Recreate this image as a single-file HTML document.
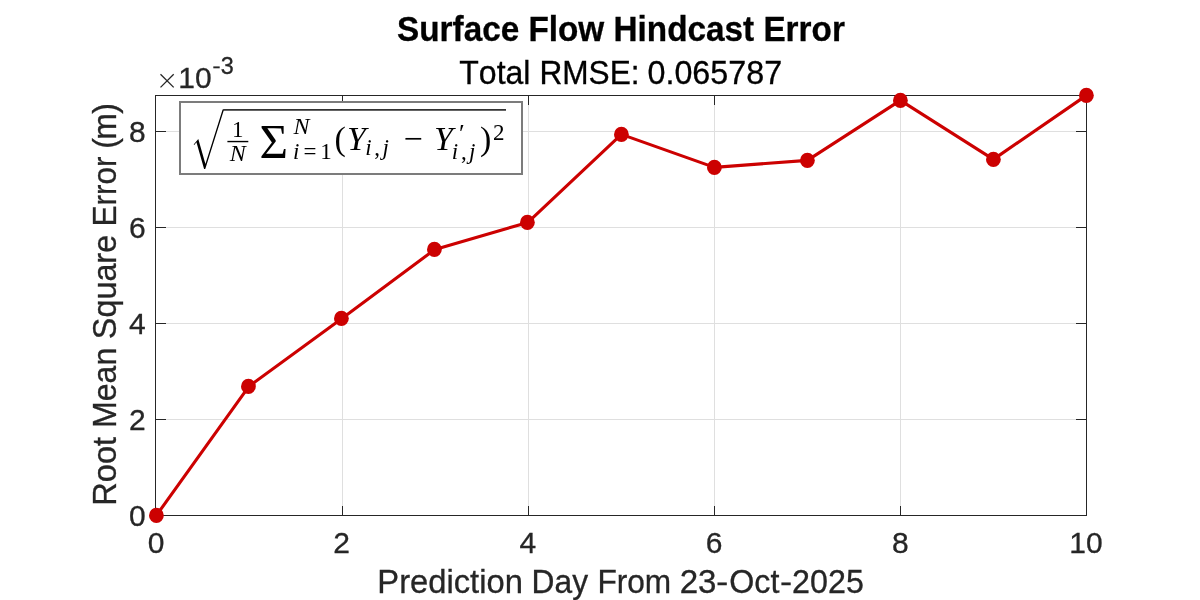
<!DOCTYPE html>
<html>
<head>
<meta charset="utf-8">
<title>Surface Flow Hindcast Error</title>
<style>
html,body{margin:0;padding:0;background:#fff;}
body{width:1200px;height:600px;overflow:hidden;position:relative;font-family:"Liberation Sans",sans-serif;}
svg{position:absolute;left:0;top:0;display:block;will-change:transform;opacity:0.9999;}
text{font-family:"Liberation Sans",sans-serif;fill:#262626;stroke:#262626;stroke-width:0.3px;font-kerning:none;white-space:pre;}
</style>
</head>
<body>
<svg width="1200" height="600" viewBox="0 0 1200 600">
<rect x="0" y="0" width="1200" height="600" fill="#ffffff"/>
<g shape-rendering="crispEdges" fill="#dfdfdf">
<rect x="342" y="96" width="1" height="419"/>
<rect x="528" y="96" width="1" height="419"/>
<rect x="714" y="96" width="1" height="419"/>
<rect x="900" y="96" width="1" height="419"/>
<rect x="156" y="131" width="930" height="1"/>
<rect x="156" y="227" width="930" height="1"/>
<rect x="156" y="323" width="930" height="1"/>
<rect x="156" y="419" width="930" height="1"/>
</g>
<g shape-rendering="crispEdges" fill="#262626">
<rect x="155" y="95" width="932" height="1"/><rect x="155" y="515" width="932" height="1"/><rect x="155" y="95" width="1" height="421"/><rect x="1086" y="95" width="1" height="421"/>
<rect x="342" y="506" width="1" height="9"/><rect x="342" y="96" width="1" height="9"/>
<rect x="528" y="506" width="1" height="9"/><rect x="528" y="96" width="1" height="9"/>
<rect x="714" y="506" width="1" height="9"/><rect x="714" y="96" width="1" height="9"/>
<rect x="900" y="506" width="1" height="9"/><rect x="900" y="96" width="1" height="9"/>
<rect x="156" y="131" width="10" height="1"/><rect x="1076" y="131" width="10" height="1"/>
<rect x="156" y="227" width="10" height="1"/><rect x="1076" y="227" width="10" height="1"/>
<rect x="156" y="323" width="10" height="1"/><rect x="1076" y="323" width="10" height="1"/>
<rect x="156" y="419" width="10" height="1"/><rect x="1076" y="419" width="10" height="1"/>
</g>
<polyline fill="none" stroke="#cc0000" stroke-width="3.1" stroke-linejoin="round" stroke-linecap="round" points="156.4,515.4 248.9,386.4 341.9,318.4 434.9,249.4 527.9,222.4 621.4,134.4 714.4,167.4 807.4,160.4 900.4,100.4 993.4,159.4 1086.4,95.4"/>
<g fill="#cc0000"><ellipse cx="156.4" cy="515.4" rx="7.4" ry="7.7"/><ellipse cx="248.4" cy="386.4" rx="7.4" ry="7.7"/><ellipse cx="341.4" cy="318.4" rx="7.4" ry="7.7"/><ellipse cx="434.4" cy="249.4" rx="7.4" ry="7.7"/><ellipse cx="527.4" cy="222.4" rx="7.4" ry="7.7"/><ellipse cx="621.4" cy="134.4" rx="7.4" ry="7.7"/><ellipse cx="714.4" cy="167.4" rx="7.4" ry="7.7"/><ellipse cx="807.4" cy="160.4" rx="7.4" ry="7.7"/><ellipse cx="900.4" cy="100.4" rx="7.4" ry="7.7"/><ellipse cx="993.4" cy="159.4" rx="7.4" ry="7.7"/><ellipse cx="1086.4" cy="95.4" rx="7.4" ry="7.7"/></g>
<g shape-rendering="crispEdges"><rect x="179" y="101" width="344" height="74" fill="#7c7c7c"/><rect x="181" y="103" width="340" height="70" fill="#ffffff"/></g>
<rect x="223.4" y="109.2" width="282.6" height="1.4" fill="#000"/>
<rect x="227.4" y="140.85" width="20.9" height="1.4" fill="#000"/>
<path fill="#000" d="M205.42 164.01L198.29 139.11L193.67 144.52L194.2 145.02L196.46 142.36L204.09 168.98C205.19 168.98 205.23 168.98 205.49 168.19L223.71 110.56C223.88 110.06 223.88 109.93 223.88 109.89C223.88 109.53 223.62 109.23 223.22 109.23C222.72 109.23 222.59 109.66 222.46 110.1Z"/>
<g style="font-family:'Liberation Serif',serif;fill:#000;stroke:none">
<text x="237.8" y="136.9" font-size="23" text-anchor="middle" style="font-family:'Liberation Serif',serif;fill:#000;stroke:none">1</text>
<text x="237.8" y="160.8" font-size="24" text-anchor="middle" font-style="italic" style="font-family:'Liberation Serif',serif;fill:#000;stroke:none">N</text>
<text x="259.5" y="158.2" font-size="49" text-anchor="start" style="font-family:'Liberation Serif',serif;fill:#000;stroke:none">Σ</text>
<text x="293.5" y="133.5" font-size="24" text-anchor="start" font-style="italic" style="font-family:'Liberation Serif',serif;fill:#000;stroke:none">N</text>
<text x="293" y="159.2" font-size="23" text-anchor="start" font-style="italic" style="font-family:'Liberation Serif',serif;fill:#000;stroke:none">i</text>
<text x="310" y="159.2" font-size="23" text-anchor="middle" style="font-family:'Liberation Serif',serif;fill:#000;stroke:none">=</text>
<text x="326" y="159.2" font-size="23" text-anchor="middle" style="font-family:'Liberation Serif',serif;fill:#000;stroke:none">1</text>
<text x="334.5" y="150" font-size="34" text-anchor="start" style="font-family:'Liberation Serif',serif;fill:#000;stroke:none">(</text>
<text x="347" y="150" font-size="34" text-anchor="start" font-style="italic" style="font-family:'Liberation Serif',serif;fill:#000;stroke:none">Y</text>
<text x="365.3" y="155.2" font-size="23" text-anchor="start" font-style="italic" style="font-family:'Liberation Serif',serif;fill:#000;stroke:none">i</text>
<text x="374.3" y="155.2" font-size="23" text-anchor="start" style="font-family:'Liberation Serif',serif;fill:#000;stroke:none">,</text>
<text x="382.5" y="155.2" font-size="23" text-anchor="start" font-style="italic" style="font-family:'Liberation Serif',serif;fill:#000;stroke:none">j</text>
<text x="413" y="150" font-size="34" text-anchor="middle" style="font-family:'Liberation Serif',serif;fill:#000;stroke:none">−</text>
<text x="434" y="150" font-size="34" text-anchor="start" font-style="italic" style="font-family:'Liberation Serif',serif;fill:#000;stroke:none">Y</text>
<text x="459" y="142" font-size="26" text-anchor="start" style="font-family:'Liberation Serif',serif;fill:#000;stroke:none">′</text>
<text x="451.8" y="159.1" font-size="23" text-anchor="start" font-style="italic" style="font-family:'Liberation Serif',serif;fill:#000;stroke:none">i</text>
<text x="461" y="159.1" font-size="23" text-anchor="start" style="font-family:'Liberation Serif',serif;fill:#000;stroke:none">,</text>
<text x="469" y="159.1" font-size="23" text-anchor="start" font-style="italic" style="font-family:'Liberation Serif',serif;fill:#000;stroke:none">j</text>
<text x="480" y="150" font-size="34" text-anchor="start" style="font-family:'Liberation Serif',serif;fill:#000;stroke:none">)</text>
<text x="493" y="140.4" font-size="23" text-anchor="start" style="font-family:'Liberation Serif',serif;fill:#000;stroke:none">2</text>
</g>
<text transform="translate(397.03,41.0) scale(1,1.025)" font-size="33.32" text-anchor="start" font-weight="bold" style="fill:#000;stroke:#000">Surface Flow Hindcast Error</text>
<text transform="translate(459.28,83.8) scale(1,1.025)" font-size="32.01" text-anchor="start" style="fill:#000;stroke:#000">Total</text>
<text transform="translate(539.41,83.8) scale(1,1.025)" font-size="31.63" text-anchor="start" style="fill:#000;stroke:#000">RMSE:</text>
<text transform="translate(647.44,83.8) scale(1,1.025)" font-size="32.32" text-anchor="start" style="fill:#000;stroke:#000">0.065787</text>
<text transform="translate(1069.3,552.7) scale(1,0.997)" font-size="30" text-anchor="start">1</text>
<text transform="translate(1086.0,552.7) scale(1,0.997)" font-size="30" text-anchor="start">0</text>
<text transform="translate(156,552.7) scale(1,0.997)" font-size="30" text-anchor="middle">0</text>
<text transform="translate(341.7,552.7) scale(1,0.997)" font-size="30" text-anchor="middle">2</text>
<text transform="translate(527.9,552.7) scale(1,0.997)" font-size="30" text-anchor="middle">4</text>
<text transform="translate(714.1,552.7) scale(1,0.997)" font-size="30" text-anchor="middle">6</text>
<text transform="translate(900.3,552.7) scale(1,0.997)" font-size="30" text-anchor="middle">8</text>
<text transform="translate(145.6,525.7) scale(1,0.997)" font-size="30" text-anchor="end">0</text>
<text transform="translate(145.6,429.7) scale(1,0.997)" font-size="30" text-anchor="end">2</text>
<text transform="translate(145.6,333.7) scale(1,0.997)" font-size="30" text-anchor="end">4</text>
<text transform="translate(145.6,237.7) scale(1,0.997)" font-size="30" text-anchor="end">6</text>
<text transform="translate(145.6,141.7) scale(1,0.997)" font-size="30" text-anchor="end">8</text>
<text transform="translate(178.3,87.7) scale(1,0.997)" font-size="30" text-anchor="start">1</text>
<text transform="translate(195.0,87.7) scale(1,0.997)" font-size="30" text-anchor="start">0</text>
<text transform="translate(220.8,73.5) scale(1,0.997)" font-size="23.4" text-anchor="start">3</text>
<rect x="213.3" y="66.4" width="6.4" height="1.9" fill="#262626"/>
<path d="M160.5 74.3L173.7 87.4M173.7 74.3L160.5 87.4" stroke="#262626" stroke-width="1.3" fill="none"/>
<text transform="translate(377.31,592.8) scale(1,1.025)" font-size="32.75" text-anchor="start">Prediction</text>
<text transform="translate(531.6,592.8) scale(1,1.025)" font-size="31.75" text-anchor="start">Day</text>
<text transform="translate(597.4,592.8) scale(1,1.025)" font-size="31.67" text-anchor="start">From</text>
<text transform="translate(679.64,592.8) scale(1,1.025)" font-size="33.1" text-anchor="start">23</text>
<text transform="translate(729.27,592.8) scale(1,1.025)" font-size="32.25" text-anchor="start">Oct</text>
<text transform="translate(792.08,592.8) scale(1,1.025)" font-size="32.27" text-anchor="start">2025</text>
<rect x="717.5" y="582.45" width="9.3" height="2.8" fill="#262626"/><rect x="781.4" y="582.45" width="9.3" height="2.8" fill="#262626"/>
<text transform="translate(116,505.78) rotate(-90) scale(1,1.025)" font-size="32.63">Root</text>
<text transform="translate(116,428.03) rotate(-90) scale(1,1.025)" font-size="32.11">Mean</text>
<text transform="translate(116,339.17) rotate(-90) scale(1,1.025)" font-size="32.36">Square</text>
<text transform="translate(116,226.58) rotate(-90) scale(1,1.025)" font-size="31.50">Error</text>
<text transform="translate(116,148.73) rotate(-90) scale(1,1.025)" font-size="32.0">(</text>
<text transform="translate(116,139.82) rotate(-90) scale(1,1.025)" font-size="32.0">m</text>
<text transform="translate(116,113.63) rotate(-90) scale(1,1.025)" font-size="32.0">)</text>
</svg>
</body>
</html>
